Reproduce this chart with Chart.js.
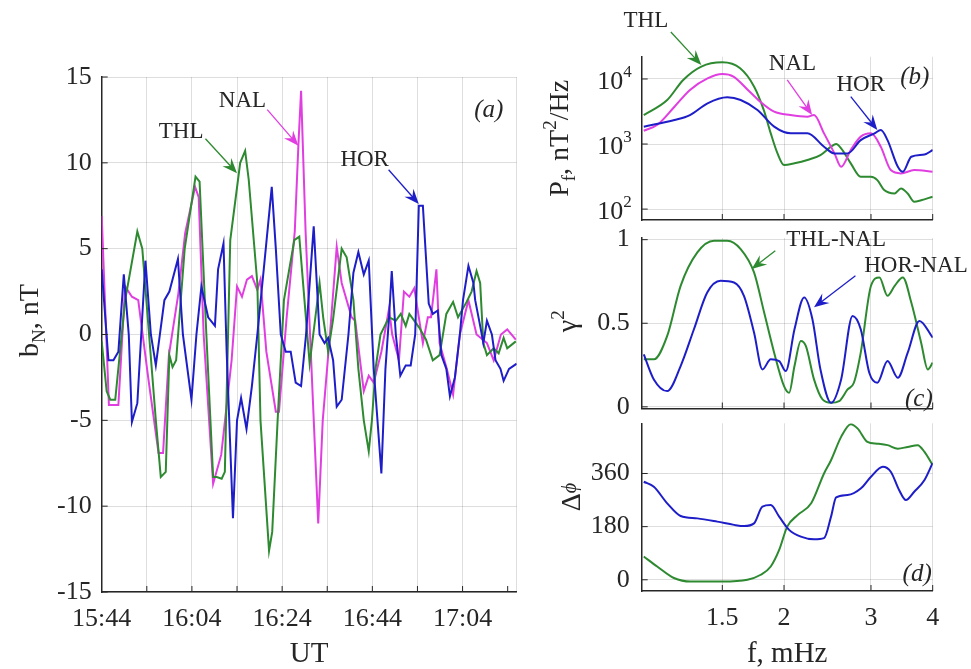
<!DOCTYPE html>
<html>
<head>
<meta charset="utf-8">
<script src="https://cdn.jsdelivr.net/npm/chart.js@4.4.0/dist/chart.umd.min.js"></script>
<style>
  body { margin: 0; background: #fff; }
  #wrap { position: relative; width: 971px; height: 669px; overflow: hidden; }
  canvas { position: absolute; top: 0; }
</style>
</head>
<body>
<div id="wrap">
  <canvas id="cA" width="540" height="669" style="left:0"></canvas>
  <canvas id="cB" width="431" height="669" style="left:540px"></canvas>
  <canvas id="cC" width="431" height="669" style="left:540px"></canvas>
  <canvas id="cD" width="431" height="669" style="left:540px"></canvas>
</div>
<script>
// (a) b_N time series, minutes after 15:44 UT
const nalT = [0, 1.6, 3.7, 5.2, 6.7, 8.1, 10.3, 12.6, 13.6, 14.9, 17, 18.5, 20.7, 21.5, 22.6, 24.7, 26.5, 28.8, 30, 31.1, 32.2, 33.3, 34.5, 35.2, 36.5, 38.6, 39.3, 41, 42.8, 43.6, 44.2, 45.2, 48, 49, 50.6, 52.1, 53.2, 55.4, 56.2, 58.1, 59.2, 60.3, 62, 63.7, 64.4, 65.9, 67, 68.2, 69.3, 71.2, 72.3, 73, 74.2, 74.9, 76.5, 77.9, 79.4, 81.3, 83.1, 85.4, 86.9, 88.5, 89.9, 91.8];
const nalB = [6.9, -4.1, -4.1, 2.8, 2.2, 2.0, -2.5, -6.9, -6.9, -1.2, 2.4, 5.9, 8.6, 8.0, 0, -8.7, -7, -1.5, 2.8, 2.2, 3.2, 3.4, 2.6, 3.2, -1, -4.5, -4.5, 1, 6, 11, 14.2, 6, -11, -5, 0, 5.1, 3, 1, 0.8, -3.3, -2.4, -2.8, -1, 1.5, 0, -1.5, 2.5, 2.2, 2.7, -0.5, 1, 1, 3.8, -0.5, -2, -3.5, 0, 2, 0, -0.5, -1.5, 0, 0.3, -0.3];

const thlT = [0, 1.1, 1.9, 3.0, 5.2, 7.9, 9.0, 10.5, 12.0, 13.1, 14.2, 15.0, 15.7, 16.5, 18.4, 20.8, 21.7, 23.2, 24.7, 25.5, 26.6, 27.3, 28.5, 30.7, 31.8, 32.6, 34.5, 35.2, 37.1, 37.8, 39.0, 40.4, 42.7, 43.8, 46.1, 47.6, 48.3, 49.1, 50.2, 51.3, 53.2, 54.3, 55.8, 56.9, 58.1, 59.2, 59.9, 60.7, 61.8, 63.7, 65.2, 66.3, 67.4, 68.2, 70.4, 71.9, 73.4, 74.9, 76.4, 77.9, 79.0, 80.9, 82.0, 83.1, 83.9, 84.6, 85.4, 86.9, 88.0, 89.1, 89.9, 91.8];
const thlB = [-0.4, -3.3, -3.8, -3.8, 2, 6, 5, 0, -5, -8.3, -8, -1.2, -1.9, -1.5, 5, 9.2, 8.9, 0, -8.3, -8.3, -8.4, -8, 5.5, 10, 10.7, 9, 3, -5, -12.6, -11.5, -5, 2, 5.5, 5.7, -1.7, 1.5, 3, 1, -1, 0.9, 5, 4.5, 2, -2, -5, -6.8, -5, -2, 0, 1, 0.8, 1.2, 0.5, 1.2, 0.4, -0.3, -1.5, -1.2, 1.2, 1.9, 1, 1.9, 2.5, 3.7, 3, -0.5, -1.2, -0.8, -1.1, -0.2, -0.8, -0.4];

const horT = [0, 1.5, 2.6, 3.7, 4.9, 6.0, 6.7, 7.9, 9.7, 10.9, 12, 13.9, 15, 16.9, 18, 19.9, 21, 22.1, 23.6, 25.1, 25.8, 27, 27.7, 29.1, 30, 30.9, 32.1, 33.3, 34.5, 36, 37.7, 38.6, 39.7, 40.8, 41.9, 43, 44.2, 45.3, 47, 48.3, 49.4, 50.2, 51.3, 52.1, 53.2, 54.7, 55.8, 56.9, 58.1, 59.2, 60.3, 62, 62.9, 63.7, 64.3, 65.2, 66.2, 67.4, 68.5, 69.5, 70.3, 71.2, 72.5, 73.4, 74.5, 75.3, 76.4, 77.2, 78.3, 79.4, 80.1, 81.3, 82.4, 82.8, 83.9, 84.6, 85.4, 86.5, 87.3, 88.4, 89.1, 90.3, 92];
const horB = [3.8, -1.5, -1.5, -1, 3.5, 0, -5.1, -4, 4.3, 0, -1.8, 2, 2.5, 4.4, 0, -3.8, 0, 2.8, 1, 0.5, 3.8, 5.3, -1, -10.7, -5, -3.7, -5.5, -3, 0, 4, 8.6, 5, 0, -1, -1, -2.8, -3, 0, 6.3, 0, -0.5, -0.2, -1.5, -4.2, -3.8, 0, 3.6, 4.8, 3.5, 4.3, -2, -8.1, -2, 1, 3.7, 0, -2.4, -1.8, -1.8, 0, 7.5, 7.5, 1.8, 1.2, 1.4, -1.2, -2, -3.6, -2.5, 0, 2, 4, 3, 2, 0.5, -0.5, 0.8, 0, -1.5, -2, -2.7, -2, -1.7];

// (b) power spectra, f in mHz, P in nT^2/Hz
const psdThlF = [1.04, 1.16, 1.25, 1.36, 1.5, 1.63, 1.74, 1.82, 1.88, 1.94, 2.0, 2.1, 2.23, 2.37, 2.49, 2.55, 2.61, 2.73, 2.86, 3.0, 3.09, 3.19, 3.35, 3.45, 3.56, 3.67, 3.79, 4.0];
const psdThl  = [2790, 4750, 9660, 15500, 18000, 14600, 7620, 3330, 1460, 718, 475, 505, 568, 678, 910, 1000, 857, 505, 314, 314, 279, 196, 174, 208, 174, 130, 137, 155];
const psdNalF = [1.04, 1.11, 1.20, 1.29, 1.40, 1.5, 1.58, 1.69, 1.79, 1.91, 2.06, 2.23, 2.30, 2.41, 2.53, 2.61, 2.73, 2.86, 3.0, 3.14, 3.29, 3.45, 3.67, 4.0];
const psdNal  = [1600, 2000, 3750, 6780, 10200, 11900, 10900, 6780, 4480, 3140, 2790, 2630, 2790, 1460, 718, 448, 810, 1300, 1460, 910, 398, 354, 398, 375];
const psdHorF = [1.04, 1.20, 1.29, 1.40, 1.535, 1.634, 1.767, 1.91, 2.064, 2.23, 2.41, 2.53, 2.69, 2.86, 3.05, 3.14, 3.24, 3.40, 3.48, 3.62, 3.85, 4.0];
const psdHor  = [1850, 2340, 2790, 4230, 5220, 4750, 3330, 1850, 1460, 1460, 910, 718, 718, 1150, 1460, 1640, 1150, 448, 375, 638, 690, 810];

// (c) squared coherence
const cohThlF = [1.04, 1.09, 1.16, 1.235, 1.335, 1.443, 1.535, 1.634, 1.739, 1.823, 1.91, 2.0, 2.048, 2.10, 2.163, 2.214, 2.30, 2.393, 2.49, 2.586, 2.69, 2.77, 2.86, 3.0, 3.12, 3.24, 3.35, 3.48, 3.62, 3.79, 3.91, 4.0];
const cohThl  = [0.284, 0.284, 0.424, 0.724, 0.924, 0.994, 0.994, 0.944, 0.804, 0.564, 0.324, 0.124, 0.084, 0.244, 0.394, 0.364, 0.164, 0.044, 0.024, 0.034, 0.104, 0.144, 0.324, 0.724, 0.774, 0.664, 0.724, 0.774, 0.624, 0.384, 0.224, 0.264];
const cohHorF = [1.04, 1.09, 1.16, 1.235, 1.314, 1.398, 1.488, 1.584, 1.659, 1.739, 1.808, 1.88, 1.955, 2.016, 2.10, 2.197, 2.283, 2.37, 2.49, 2.61, 2.753, 2.86, 2.976, 3.09, 3.24, 3.40, 3.56, 3.76, 4.0];
const cohHor  = [0.314, 0.164, 0.094, 0.244, 0.464, 0.684, 0.754, 0.744, 0.664, 0.444, 0.224, 0.284, 0.274, 0.214, 0.464, 0.654, 0.524, 0.224, 0.024, 0.164, 0.544, 0.464, 0.204, 0.144, 0.274, 0.174, 0.324, 0.514, 0.414];

// (d) phase difference, degrees
const phThlF = [1.04, 1.107, 1.197, 1.294, 1.5, 1.686, 1.794, 1.88, 1.955, 2.03, 2.13, 2.27, 2.41, 2.49, 2.61, 2.73, 2.82, 2.95, 3.09, 3.24, 3.40, 3.56, 3.73, 3.85, 4.0];
const phThl  = [79, 45, 6, -6, -6, 0, 17, 45, 101, 180, 219, 259, 360, 405, 484, 527, 512, 467, 461, 456, 444, 450, 456, 433, 388];
const phHorF = [1.04, 1.09, 1.16, 1.235, 1.335, 1.465, 1.584, 1.66, 1.739, 1.808, 1.88, 1.955, 2.048, 2.163, 2.30, 2.41, 2.49, 2.55, 2.69, 2.86, 3.0, 3.17, 3.29, 3.42, 3.53, 3.67, 3.85, 4.0];
const phHor  = [332, 315, 259, 216, 208, 197, 186, 182, 191, 248, 253, 214, 169, 146, 137, 141, 214, 279, 287, 309, 349, 383, 366, 304, 270, 298, 338, 396];

const freqTicks = [1.5, 2, 3, 4];
const psdTicks = [100, 1000, 10000];
const cohTicks = [0, 0.5, 1];
const phTicks = [0, 180, 360];

const FONT = "'Liberation Serif','Times New Roman',serif";
const TXT = '#262626';
const GRID = 'rgba(0,0,0,0.13)';
const COL = { nal: '#e03ee0', thl: '#2e8a30', hor: '#1e1ec8' };

const pts = (xs, ys) => xs.map((x, i) => ({ x: x, y: ys[i] }));

function hhmm(m) {
  const t = 15 * 60 + 44 + m;
  return Math.floor(t / 60) + ':' + String(t % 60).padStart(2, '0');
}

function line(label, data, color, smooth) {
  return {
    label: label, data: data, borderColor: color, borderWidth: 2,
    pointRadius: 0, fill: false,
    tension: smooth ? 0.4 : 0,
    cubicInterpolationMode: smooth ? 'monotone' : 'default'
  };
}

// rich text: parts = [{t, s, dy, it}], baseline at y
function rich(ctx, x, y, parts, rot, color) {
  ctx.save();
  ctx.translate(x, y);
  if (rot) ctx.rotate(rot);
  ctx.fillStyle = color || TXT;
  ctx.textBaseline = 'alphabetic';
  ctx.textAlign = 'left';
  const fnt = p => (p.it ? 'italic ' : '') + p.s + 'px ' + FONT;
  let w = 0;
  parts.forEach(p => { ctx.font = fnt(p); w += ctx.measureText(p.t).width; });
  let cx = -w / 2;
  parts.forEach(p => {
    ctx.font = fnt(p);
    ctx.fillText(p.t, cx, p.dy || 0);
    cx += ctx.measureText(p.t).width;
  });
  ctx.restore();
}

function arrow(ctx, x1, y1, x2, y2, color) {
  const a = Math.atan2(y2 - y1, x2 - x1);
  const L = 15, W = 6;
  ctx.save();
  ctx.strokeStyle = color; ctx.fillStyle = color; ctx.lineWidth = 1.3;
  ctx.beginPath();
  ctx.moveTo(x1, y1);
  ctx.lineTo(x2 - Math.cos(a) * L * 0.6, y2 - Math.sin(a) * L * 0.6);
  ctx.stroke();
  ctx.translate(x2, y2); ctx.rotate(a);
  ctx.beginPath();
  ctx.moveTo(0, 0);
  ctx.lineTo(-L, -W);
  ctx.lineTo(-L * 0.65, 0);
  ctx.lineTo(-L, W);
  ctx.closePath();
  ctx.fill();
  ctx.restore();
}

function inwardTicks(chart, xTickVals) {
  const ctx = chart.ctx, a = chart.chartArea;
  const xs = chart.scales.x, ys = chart.scales.y;
  ctx.save();
  ctx.strokeStyle = TXT; ctx.lineWidth = 1;
  ctx.beginPath();
  xTickVals.forEach(v => {
    const px = xs.getPixelForValue(v);
    ctx.moveTo(px, a.bottom); ctx.lineTo(px, a.bottom - 6);
  });
  ys.ticks.forEach(t => {
    const py = ys.getPixelForValue(t.value);
    ctx.moveTo(a.left, py); ctx.lineTo(a.left + 6, py);
  });
  ctx.stroke();
  ctx.restore();
}

// annotation helper in data coordinates
function note(chart, text, x, y, size, color, italic) {
  const px = chart.scales.x.getPixelForValue(x), py = chart.scales.y.getPixelForValue(y);
  rich(chart.ctx, px, py + size * 0.35, [{ t: text, s: size, it: italic }], 0, color || TXT);
}
function noteArrow(chart, from, to, color) {
  const xs = chart.scales.x, ys = chart.scales.y;
  arrow(chart.ctx, xs.getPixelForValue(from[0]), ys.getPixelForValue(from[1]),
        xs.getPixelForValue(to[0]), ys.getPixelForValue(to[1]), color);
}

const tickFont = { family: FONT, size: 26 };
const base = {
  responsive: false, animation: false, devicePixelRatio: 1,
  plugins: { legend: { display: false }, tooltip: { enabled: false } },
  events: []
};

// ---------- panel (a) ----------
new Chart(document.getElementById('cA'), {
  type: 'line',
  data: { datasets: [
    line('HOR', pts(horT, horB), COL.hor),
    line('THL', pts(thlT, thlB), COL.thl),
    line('NAL', pts(nalT, nalB), COL.nal)
  ] },
  options: Object.assign({}, base, {
    layout: { padding: { top: 77, right: 23.3, left: 0, bottom: 0 } },
    scales: {
      x: {
        type: 'linear', min: 0, max: 92,
        grid: { color: GRID, drawTicks: false },
        border: { color: TXT, width: 1.5 },
        ticks: { stepSize: 10, autoSkip: false, maxRotation: 0, padding: 12, font: tickFont, color: TXT,
                 callback: v => (v % 20 === 0 ? hhmm(v) : '') },
        afterFit: s => { s.height = 77; }
      },
      y: {
        min: -15, max: 15,
        grid: { color: GRID, drawTicks: false },
        border: { color: TXT, width: 1.5 },
        ticks: { stepSize: 5, padding: 10, font: tickFont, color: TXT },
        afterFit: s => { s.width = 101.7; }
      }
    }
  }),
  plugins: [{
    id: 'decorA',
    afterDraw(chart) {
      const ctx = chart.ctx, a = chart.chartArea;
      inwardTicks(chart, [10, 20, 30, 40, 50, 60, 70, 80, 90]);
      note(chart, 'THL', 17.6, 11.9, 23);
      noteArrow(chart, [23, 11.4], [30, 9.4], COL.thl);
      note(chart, 'NAL', 31.2, 13.7, 23);
      noteArrow(chart, [36.7, 13.1], [43.6, 11.0], COL.nal);
      note(chart, 'HOR', 58.3, 10.3, 23);
      noteArrow(chart, [63.6, 9.6], [70.3, 7.6], COL.hor);
      note(chart, '(a)', 85.8, 13.2, 25, TXT, true);
      rich(ctx, 38, (a.top + a.bottom) / 2 - 14, [
        { t: 'b', s: 28 }, { t: 'N', s: 19, dy: 7 }, { t: ', nT', s: 28 }
      ], -Math.PI / 2);
      rich(ctx, (a.left + a.right) / 2, 662, [{ t: 'UT', s: 29 }]);
    }
  }]
});

// ---------- right panels (b), (c), (d) ----------
function logX(showLabels, height) {
  return {
    type: 'logarithmic', min: 1.03, max: 4,
    grid: { color: GRID, drawTicks: false },
    border: { color: TXT, width: 1.5 },
    afterBuildTicks: s => { s.ticks = freqTicks.map(v => ({ value: v })); },
    ticks: { display: showLabels, autoSkip: false, maxRotation: 0, padding: 12, font: tickFont, color: TXT,
             callback: v => String(v) },
    afterFit: s => { s.height = height; }
  };
}
function yAxis(extra, tickVals, showLabels) {
  return Object.assign({
    grid: { color: GRID, drawTicks: false },
    border: { color: TXT, width: 1.5 },
    afterBuildTicks: s => { s.ticks = tickVals.map(v => ({ value: v })); },
    ticks: { display: showLabels, padding: 12, font: tickFont, color: TXT, callback: v => String(v) },
    afterFit: s => { s.width = 101.7; }
  }, extra);
}
const rightPad = (top, bottom) => ({ padding: { top: top, right: 38.3, left: 0, bottom: bottom } });

// (b)
new Chart(document.getElementById('cB'), {
  type: 'line',
  data: { datasets: [
    line('HOR', pts(psdHorF, psdHor), COL.hor, true),
    line('NAL', pts(psdNalF, psdNal), COL.nal, true),
    line('THL', pts(psdThlF, psdThl), COL.thl, true)
  ] },
  options: Object.assign({}, base, {
    layout: rightPad(56.7, 449),
    scales: {
      x: logX(false, 0),
      y: yAxis({ type: 'logarithmic', min: 68, max: 22000 }, psdTicks, false)
    }
  }),
  plugins: [{
    id: 'decorB',
    afterDraw(chart) {
      const ctx = chart.ctx, a = chart.chartArea, ys = chart.scales.y;
      inwardTicks(chart, freqTicks);
      psdTicks.forEach(v => {
        const py = ys.getPixelForValue(v);
        ctx.save();
        ctx.fillStyle = TXT; ctx.textAlign = 'right'; ctx.textBaseline = 'alphabetic';
        ctx.font = '17px ' + FONT;
        const e = String(Math.round(Math.log10(v)));
        const ew = ctx.measureText(e).width;
        ctx.fillText(e, a.left - 10, py - 2);
        ctx.font = '26px ' + FONT;
        ctx.fillText('10', a.left - 10 - ew, py + 10);
        ctx.restore();
      });
      note(chart, 'THL', 1.05, 83800, 23);
      noteArrow(chart, [1.18, 52800], [1.36, 16400], COL.thl);
      note(chart, 'NAL', 2.08, 18300, 23);
      noteArrow(chart, [2.03, 9660], [2.28, 2790], COL.nal);
      note(chart, 'HOR', 2.86, 8670, 23);
      noteArrow(chart, [2.73, 5340], [3.09, 1640], COL.hor);
      note(chart, '(b)', 3.68, 11500, 25, TXT, true);
      rich(ctx, 28, (a.top + a.bottom) / 2, [
        { t: 'P', s: 28 }, { t: 'f', s: 19, dy: 7 }, { t: ', nT', s: 28 },
        { t: '2', s: 19, dy: -12 }, { t: '/Hz', s: 28 }
      ], -Math.PI / 2);
    }
  }]
});

// (c)
new Chart(document.getElementById('cC'), {
  type: 'line',
  data: { datasets: [
    line('HOR-NAL', pts(cohHorF, cohHor), COL.hor, true),
    line('THL-NAL', pts(cohThlF, cohThl), COL.thl, true)
  ] },
  options: Object.assign({}, base, {
    layout: rightPad(238, 260.5),
    scales: {
      x: logX(false, 0),
      y: yAxis({ min: -0.01, max: 1.01 }, cohTicks, true)
    }
  }),
  plugins: [{
    id: 'decorC',
    afterDraw(chart) {
      const ctx = chart.ctx, a = chart.chartArea;
      inwardTicks(chart, freqTicks);
      note(chart, 'THL-NAL', 2.55, 1.01, 23);
      noteArrow(chart, [1.92, 0.934], [1.72, 0.824], COL.thl);
      note(chart, 'HOR-NAL', 3.70, 0.854, 23);
      noteArrow(chart, [2.79, 0.784], [2.30, 0.595], COL.hor);
      note(chart, '(c)', 3.75, 0.056, 25, TXT, true);
      rich(ctx, 36, (a.top + a.bottom) / 2 - 2, [
        { t: 'γ', s: 28 }, { t: '2', s: 19, dy: -12 }
      ], -Math.PI / 2);
    }
  }]
});

// (d)
new Chart(document.getElementById('cD'), {
  type: 'line',
  data: { datasets: [
    line('HOR', pts(phHorF, phHor), COL.hor, true),
    line('THL', pts(phThlF, phThl), COL.thl, true)
  ] },
  options: Object.assign({}, base, {
    layout: rightPad(423.3, 0),
    scales: {
      x: logX(true, 78),
      y: yAxis({ min: -38, max: 530 }, phTicks, true)
    }
  }),
  plugins: [{
    id: 'decorD',
    afterDraw(chart) {
      const ctx = chart.ctx, a = chart.chartArea;
      inwardTicks(chart, freqTicks);
      note(chart, '(d)', 3.72, 27, 25, TXT, true);
      rich(ctx, 40, (a.top + a.bottom) / 2 - 10, [
        { t: 'Δ', s: 28 }, { t: 'ϕ', s: 20, it: true, dy: -4 }
      ], -Math.PI / 2);
      rich(ctx, (a.left + a.right) / 2, 662, [{ t: 'f, mHz', s: 29 }]);
    }
  }]
});
</script>
</body>
</html>
